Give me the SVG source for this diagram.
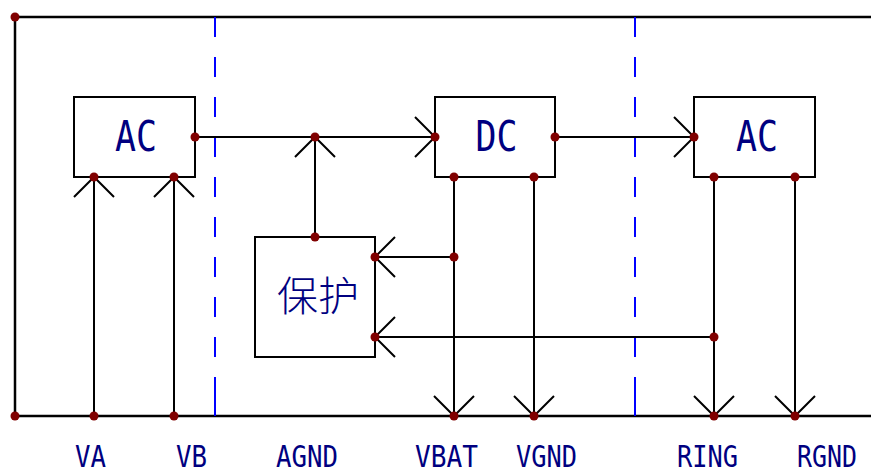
<svg xmlns="http://www.w3.org/2000/svg" xmlns:xlink="http://www.w3.org/1999/xlink" width="871" height="475" viewBox="0 0 871 475">
<style>
.bg{fill:#ffffff}
.box{fill:#ffffff;stroke:#000000;stroke-width:2}
.wire{fill:none;stroke:#000000;stroke-width:2}
.frame{fill:none;stroke:#000000;stroke-width:2.5}
.sep{fill:none;stroke:#0000ff;stroke-width:2}
.dash{stroke-dasharray:20 20}
.dot{fill:#800000}
.t{font-family:"DejaVu Sans Mono","Liberation Mono",monospace;fill:#000080;text-anchor:middle}
.big{font-size:42px}
.lbl{font-size:31px}
.cjk{font-family:"Noto Sans CJK SC","Noto Sans",sans-serif;font-size:41px;font-weight:300;fill:#000080;text-anchor:middle}
</style>
<defs>
<path id="arr" d="M-20,-20 L0,0 L-20,20" fill="none" stroke="#000000" stroke-width="2"/>
</defs>
<rect class="bg" x="0" y="0" width="871" height="475"/>

<g id="frame">
<path class="frame" d="M871,17 H15 V416 H871"/>
<path class="sep dash" d="M215,17 V377"/>
<path class="sep" d="M215,377 V416"/>
<path class="sep dash" d="M635,17 V377"/>
<path class="sep" d="M635,377 V416"/>
</g>

<g id="connectors">
<path class="wire" d="M195,137 H435"/>
<path class="wire" d="M315,237 V137"/>
<path class="wire" d="M555,137 H694"/>
<path class="wire" d="M454,177 V416"/>
<path class="wire" d="M454,257 H375"/>
<path class="wire" d="M534,177 V416"/>
<path class="wire" d="M714,177 V416"/>
<path class="wire" d="M714,337 H375"/>
<path class="wire" d="M795,177 V416"/>
<path class="wire" d="M94,416 V177"/>
<path class="wire" d="M174,416 V177"/>
<use xlink:href="#arr" href="#arr" transform="translate(435,137)"/>
<use xlink:href="#arr" href="#arr" transform="translate(315,137) rotate(-90)"/>
<use xlink:href="#arr" href="#arr" transform="translate(694,137)"/>
<use xlink:href="#arr" href="#arr" transform="translate(454,416) rotate(90)"/>
<use xlink:href="#arr" href="#arr" transform="translate(534,416) rotate(90)"/>
<use xlink:href="#arr" href="#arr" transform="translate(714,416) rotate(90)"/>
<use xlink:href="#arr" href="#arr" transform="translate(795,416) rotate(90)"/>
<use xlink:href="#arr" href="#arr" transform="translate(375,257) rotate(180)"/>
<use xlink:href="#arr" href="#arr" transform="translate(375,337) rotate(180)"/>
<use xlink:href="#arr" href="#arr" transform="translate(94,177) rotate(-90)"/>
<use xlink:href="#arr" href="#arr" transform="translate(174,177) rotate(-90)"/>
</g>

<g id="ac-left">
<rect class="box" x="74" y="97" width="121" height="80"/>
<text class="t big" x="136" y="151" textLength="42" lengthAdjust="spacingAndGlyphs">AC</text>
</g>

<g id="dc">
<rect class="box" x="435" y="97" width="120" height="80"/>
<text class="t big" x="496.5" y="151" textLength="42" lengthAdjust="spacingAndGlyphs">DC</text>
</g>

<g id="ac-right">
<rect class="box" x="694" y="97" width="121" height="80"/>
<text class="t big" x="757" y="151" textLength="42" lengthAdjust="spacingAndGlyphs">AC</text>
</g>

<g id="protect">
<rect class="box" x="255" y="237" width="120" height="120"/>
<text class="cjk" x="318" y="311">保护</text>
</g>

<g id="dots">
<circle class="dot" cx="15" cy="17" r="4.5"/>
<circle class="dot" cx="15" cy="416" r="4.5"/>
<circle class="dot" cx="94" cy="416" r="4.5"/>
<circle class="dot" cx="174" cy="416" r="4.5"/>
<circle class="dot" cx="454" cy="416" r="4.5"/>
<circle class="dot" cx="534" cy="416" r="4.5"/>
<circle class="dot" cx="714" cy="416" r="4.5"/>
<circle class="dot" cx="795" cy="416" r="4.5"/>
<circle class="dot" cx="195" cy="137" r="4.5"/>
<circle class="dot" cx="94" cy="177" r="4.5"/>
<circle class="dot" cx="174" cy="177" r="4.5"/>
<circle class="dot" cx="315" cy="137" r="4.5"/>
<circle class="dot" cx="435" cy="137" r="4.5"/>
<circle class="dot" cx="555" cy="137" r="4.5"/>
<circle class="dot" cx="454" cy="177" r="4.5"/>
<circle class="dot" cx="534" cy="177" r="4.5"/>
<circle class="dot" cx="694" cy="137" r="4.5"/>
<circle class="dot" cx="714" cy="177" r="4.5"/>
<circle class="dot" cx="795" cy="177" r="4.5"/>
<circle class="dot" cx="315" cy="237" r="4.5"/>
<circle class="dot" cx="375" cy="257" r="4.5"/>
<circle class="dot" cx="375" cy="337" r="4.5"/>
<circle class="dot" cx="454" cy="257" r="4.5"/>
<circle class="dot" cx="714" cy="337" r="4.5"/>
</g>

<g id="labels">
<text class="t lbl" x="90.5" y="467" textLength="31" lengthAdjust="spacingAndGlyphs">VA</text>
<text class="t lbl" x="191.5" y="467" textLength="31" lengthAdjust="spacingAndGlyphs">VB</text>
<text class="t lbl" x="307" y="467" textLength="62" lengthAdjust="spacingAndGlyphs">AGND</text>
<text class="t lbl" x="446.5" y="467" textLength="63" lengthAdjust="spacingAndGlyphs">VBAT</text>
<text class="t lbl" x="546.5" y="467" textLength="61" lengthAdjust="spacingAndGlyphs">VGND</text>
<text class="t lbl" x="707.5" y="467" textLength="61" lengthAdjust="spacingAndGlyphs">RING</text>
<text class="t lbl" x="827" y="467" textLength="60" lengthAdjust="spacingAndGlyphs">RGND</text>
</g>
</svg>
